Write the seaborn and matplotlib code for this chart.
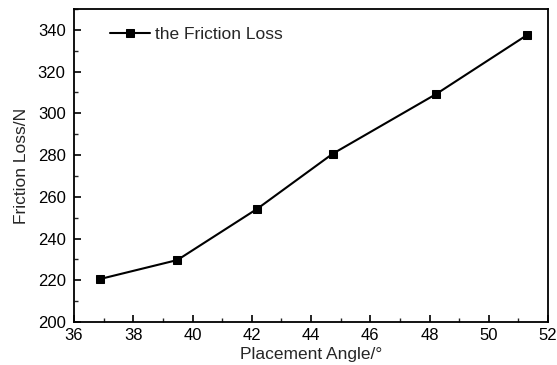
import matplotlib
matplotlib.use("Agg")
import matplotlib.pyplot as plt
import seaborn as sns
import pandas as pd
from matplotlib.ticker import MultipleLocator

angle = [36.88, 39.49, 42.19, 44.73, 48.22, 51.29]
friction_loss = [220.6, 229.7, 254.3, 280.6, 309.2, 337.5]
series_name = "the Friction Loss"

df = pd.DataFrame({"angle": angle, "loss": friction_loss, "series": series_name})

sns.set_theme(style="ticks")
plt.rcParams['font.family'] = ['Liberation Sans', 'DejaVu Sans']

fig = plt.figure(figsize=(5.57, 3.65), dpi=100)
ax = fig.add_axes([74/557, 1 - 322/365, (548-74)/557, (322-9)/365])

sns.lineplot(data=df, x="angle", y="loss", hue="series", palette=["black"],
             marker="s", markersize=5.5, linewidth=1.5, ax=ax,
             markeredgecolor="black")

ax.set_xlim(36, 52)
ax.set_ylim(200, 350)
ax.xaxis.set_major_locator(MultipleLocator(2))
ax.xaxis.set_minor_locator(MultipleLocator(1))
ax.yaxis.set_major_locator(MultipleLocator(20))
ax.yaxis.set_minor_locator(MultipleLocator(10))
ax.tick_params(which="major", direction="in", length=5, width=1.2, labelsize=12,
               colors="black", top=False, right=False)
ax.tick_params(axis="y", which="major", pad=6)
ax.tick_params(axis="x", which="major", pad=4)
ax.tick_params(which="minor", direction="in", length=3, width=1.0, top=False, right=False)
for s in ax.spines.values():
    s.set_linewidth(1.3)
    s.set_color("black")
    s.set_visible(True)

ax.set_xlabel("Placement Angle/°", fontsize=12.5, labelpad=3)
ax.set_ylabel("Friction Loss/N", fontsize=12.5, labelpad=6)

leg = ax.legend(loc="upper left", frameon=False, fontsize=12.5, handlelength=2.3,
                handletextpad=0.25, bbox_to_anchor=(0.055, 0.975), borderaxespad=0.2)

fig.savefig("out.png", dpi=100, facecolor="white")
